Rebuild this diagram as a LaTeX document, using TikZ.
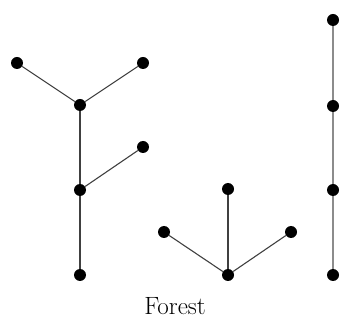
\documentclass[tikz,border=0pt]{standalone}
\begin{document}
\begin{tikzpicture}[x=1pt,y=-1pt,
  vtx/.style={circle,fill=black,inner sep=0pt,minimum size=12pt},
  edge/.style={line width=1.1pt,draw=black!75},
  edgelight/.style={line width=1.1pt,draw=black!45}]
\useasboundingbox (0,0) rectangle (340,320);
% tree 1
\node[vtx] (a1) at (17,63) {};
\node[vtx] (a2) at (143,63) {};
\node[vtx] (a3) at (80,105) {};
\node[vtx] (a4) at (143,147) {};
\node[vtx] (a5) at (80,190) {};
\node[vtx] (a6) at (80,275) {};
\draw[edge] (a1) -- (a3);
\draw[edge] (a2) -- (a3);
\draw[edge] (a3) -- (a5);
\draw[edge] (a4) -- (a5);
\draw[edge] (a5) -- (a6);
% tree 2
\node[vtx] (b1) at (228,189) {};
\node[vtx] (b2) at (164,232) {};
\node[vtx] (b3) at (291,232) {};
\node[vtx] (b4) at (228,275) {};
\draw[edge] (b1) -- (b4);
\draw[edge] (b2) -- (b4);
\draw[edge] (b3) -- (b4);
% tree 3
\node[vtx] (c1) at (333,20) {};
\node[vtx] (c2) at (333,106) {};
\node[vtx] (c3) at (333,190) {};
\node[vtx] (c4) at (333,275) {};
\draw[edgelight] (c1) -- (c2);
\draw[edgelight] (c2) -- (c3);
\draw[edgelight] (c3) -- (c4);
\node[font=\fontsize{25}{29}\selectfont,inner sep=0pt,anchor=base] (lbl) at (175,315) {Forest};
\end{tikzpicture}
\end{document}
